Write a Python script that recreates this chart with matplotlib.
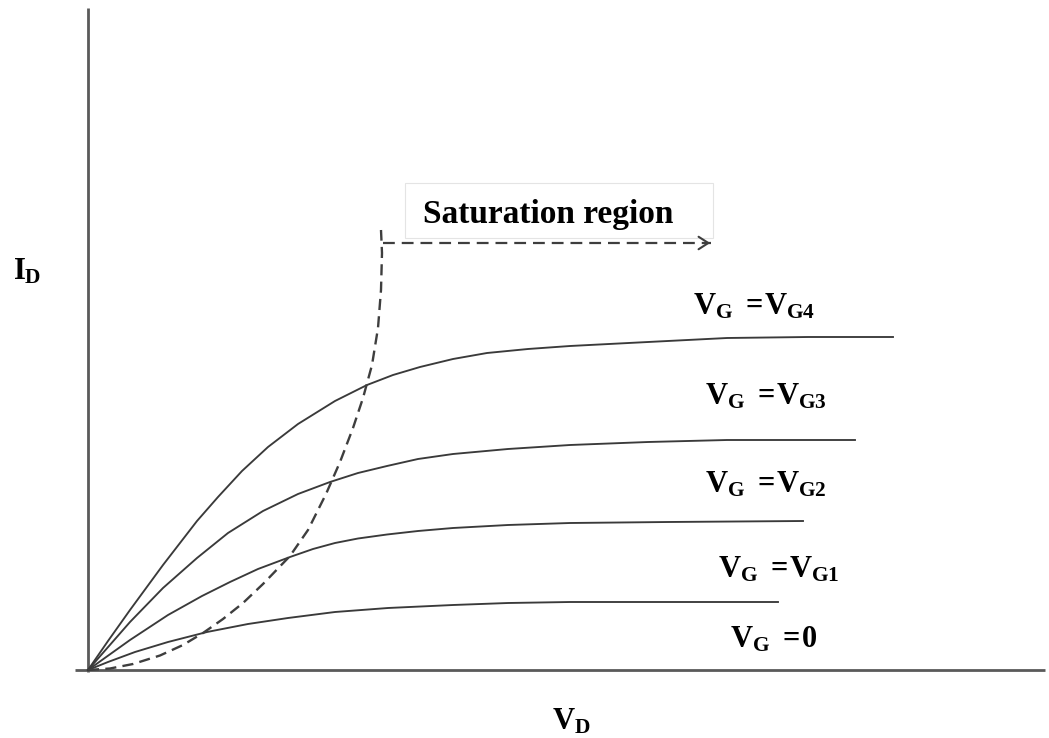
import numpy as np
import matplotlib.pyplot as plt
from matplotlib.patches import Rectangle

plt.rcParams['font.family'] = ['Liberation Serif', 'DejaVu Serif']
plt.rcParams['mathtext.fontset'] = 'custom'
plt.rcParams['mathtext.rm'] = 'Liberation Serif:bold'
plt.rcParams['mathtext.it'] = 'Liberation Serif:bold'
plt.rcParams['mathtext.bf'] = 'Liberation Serif:bold'
plt.rcParams['lines.scale_dashes'] = False

# drain current curves (V_D, I_D in arbitrary units)
vd_g4 = [0, 0.2, 0.42, 0.75, 1.09, 1.3, 1.54, 1.8, 2.1, 2.47, 2.79, 3.05, 3.32,
         3.65, 3.99, 4.4, 4.82, 5.6, 6.39, 7.2, 8.05]
id_g4 = [0, 0.29, 0.60, 1.05, 1.49, 1.73, 1.99, 2.23, 2.46, 2.69, 2.85, 2.95, 3.03,
         3.11, 3.17, 3.21, 3.24, 3.28, 3.32, 3.33, 3.33]

vd_g3 = [0, 0.42, 0.75, 1.09, 1.4, 1.75, 2.1, 2.42, 2.7, 2.99, 3.3, 3.65, 4.2,
         4.82, 5.6, 6.39, 7.67]
id_g3 = [0, 0.48, 0.82, 1.12, 1.37, 1.59, 1.76, 1.88, 1.97, 2.04, 2.11, 2.16, 2.21,
         2.25, 2.28, 2.30, 2.30]

vd_g2 = [0, 0.42, 0.8, 1.14, 1.42, 1.7, 2.02, 2.25, 2.47, 2.7, 2.99, 3.3, 3.65,
         4.2, 4.82, 5.8, 7.15]
id_g2 = [0, 0.30, 0.55, 0.74, 0.88, 1.01, 1.13, 1.21, 1.27, 1.315, 1.355, 1.39, 1.42,
         1.45, 1.47, 1.48, 1.49]

vd_g1 = [0, 0.2, 0.47, 0.8, 1.19, 1.6, 2.0, 2.47, 3.0, 3.65, 4.2, 4.82, 5.8, 6.9]
id_g1 = [0, 0.08, 0.18, 0.28, 0.38, 0.46, 0.52, 0.58, 0.62, 0.65, 0.67, 0.68, 0.68, 0.68]

# saturation boundary (dashed)
vd_sat = [0, 0.22, 0.45, 0.72, 0.95, 1.15, 1.35, 1.55, 1.75, 2.02, 2.2, 2.38, 2.52,
          2.65, 2.75, 2.84, 2.90, 2.93, 2.94, 2.93]
id_sat = [0, 0.015, 0.06, 0.145, 0.25, 0.37, 0.51, 0.67, 0.86, 1.14, 1.40, 1.76, 2.08,
          2.42, 2.72, 3.05, 3.42, 3.80, 4.17, 4.40]

# saturation arrow
arrow_start = (2.95, 4.27)
arrow_end = (6.25, 4.27)

curve_labels = [r'$V_G\ =\!V_{G4}$', r'$V_G\ =\!V_{G3}$', r'$V_G\ =\!V_{G2}$',
                r'$V_G\ =\!V_{G1}$', r'$V_G\ =\!0$']
label_pos = [(6.05, 3.55), (6.17, 2.65), (6.17, 1.77), (6.30, 0.93), (6.42, 0.23)]

fig = plt.figure(figsize=(10.49, 7.38), dpi=100)
ax = fig.add_axes([0, 0, 1, 1])
ax.set_xlim(-0.88, 9.61)
ax.set_ylim(-0.68, 6.70)
ax.axis('off')

axis_col = '#5a5a5a'
curve_col = '#3a3a3a'
dash_col = '#3e3e3e'

# axes
ax.plot([0, 0], [-0.02, 6.62], color=axis_col, lw=2.0, solid_capstyle='butt')
ax.plot([-0.13, 9.57], [0, 0], color=axis_col, lw=2.0, solid_capstyle='butt')

for vd, i_d in [(vd_g4, id_g4), (vd_g3, id_g3), (vd_g2, id_g2), (vd_g1, id_g1)]:
    ax.plot(vd, i_d, color=curve_col, lw=1.35, solid_joinstyle='round')

ax.plot(vd_sat, id_sat, color=dash_col, lw=1.7, dashes=(8, 4.5))

# arrow to the saturation region
ax.plot([arrow_start[0], arrow_end[0] - 0.02], [arrow_start[1], arrow_end[1]],
        color=dash_col, lw=1.6, dashes=(8.5, 5))
ax.annotate('', xy=arrow_end, xytext=(arrow_end[0] - 0.1, arrow_end[1]),
            arrowprops=dict(arrowstyle='->,head_length=0.7,head_width=0.45',
                            color=dash_col, lw=1.5))

ax.add_patch(Rectangle((3.17, 4.32), 3.08, 0.55, facecolor='white',
                       edgecolor='#e4e4e4', lw=0.8))
ax.text(3.35, 4.47, 'Saturation region', fontsize=24, fontweight='bold',
        ha='left', va='baseline')

for lab, (x, y) in zip(curve_labels, label_pos):
    ax.text(x, y, lab, fontsize=22, ha='left', va='baseline')

ax.text(-0.75, 3.90, r'$I_D$', fontsize=22, ha='left', va='baseline')
ax.text(4.64, -0.60, r'$V_D$', fontsize=22, ha='left', va='baseline')

fig.savefig('out.png', dpi=100)
